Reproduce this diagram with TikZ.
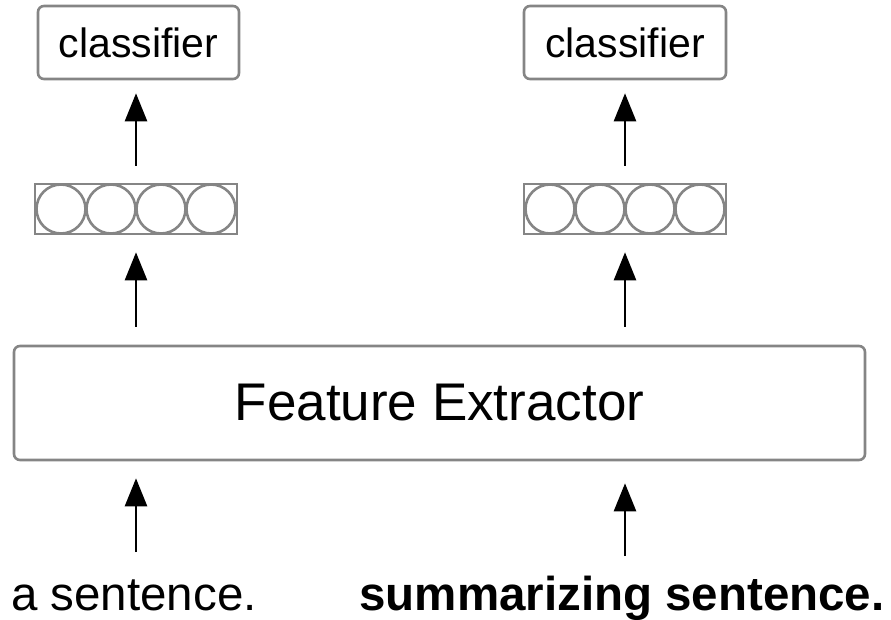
\documentclass[tikz,border=0pt]{standalone}
\usepackage{fontspec}
\setmainfont{Liberation Sans}
\usetikzlibrary{arrows.meta,positioning}
\definecolor{boxgray}{HTML}{858585}

\begin{document}
\begin{tikzpicture}[x=1pt,y=-1pt,>={Triangle[length=28pt,width=22pt]},
    box/.style={rectangle,rounded corners=6pt,draw=boxgray,line width=2.6pt,inner sep=0pt,align=center},
    vec/.style={rectangle,draw=boxgray,line width=2.6pt,minimum width=202pt,minimum height=50pt,inner sep=0pt},
    unit/.style={draw=boxgray,line width=2.6pt},
    word/.style={anchor=base,inner sep=0pt},
    link/.style={->,line width=2.6pt}]
\useasboundingbox (0,0) rectangle (891,620);
\node[box,minimum width=201pt,minimum height=73pt,font=\fontsize{41}{46}\selectfont] (clfa) at (138.5,42.5) {classifier};
\node[box,minimum width=202pt,minimum height=73pt,font=\fontsize{41}{46}\selectfont] (clfb) at (625,42.5) {classifier};
\node[vec] (veca) at (136,209) {};
\node[vec] (vecb) at (625,209) {};
\foreach \v in {veca,vecb}
  \foreach \dx in {-75,-25,25,75}
    \draw[unit] ([xshift=\dx pt]\v.center) circle (24.5);
\node[box,minimum width=851pt,minimum height=114pt,font=\fontsize{53}{60}\selectfont] (feat) at (439.5,403) {Feature Extractor};
\node[word,font=\fontsize{47.5}{54}\selectfont] (sena) at (134,610) {a sentence.};
\node[word,font=\fontsize{47.5}{54}\selectfont\bfseries] (senb) at (622,610) {summarizing sentence.};
% arrows, bottom to top
\draw[link,shorten <=58pt,shorten >=17pt] (veca |- sena.base) -- (veca |- feat.south);
\draw[link,shorten <=54pt,shorten >=22pt] (vecb |- senb.base) -- (vecb |- feat.south);
\draw[link,shorten <=18pt,shorten >=17pt] (veca |- feat.north) -- (veca.south);
\draw[link,shorten <=18pt,shorten >=17pt] (vecb |- feat.north) -- (vecb.south);
\draw[link,shorten <=17pt,shorten >=13pt] (veca.north) -- (veca |- clfa.south);
\draw[link,shorten <=17pt,shorten >=13pt] (vecb.north) -- (vecb |- clfb.south);
\end{tikzpicture}
\end{document}
